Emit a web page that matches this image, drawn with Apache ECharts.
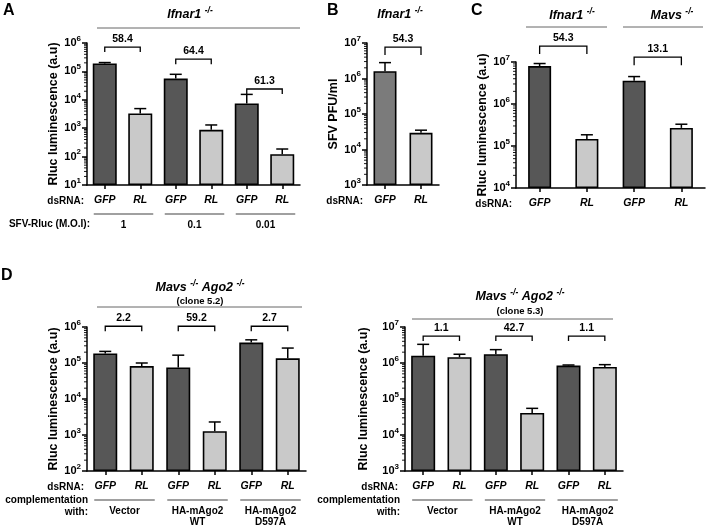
<!DOCTYPE html>
<html><head><meta charset="utf-8">
<script src="https://cdn.jsdelivr.net/npm/echarts@6/dist/echarts.min.js"></script>
<style>html,body{margin:0;padding:0;background:#fff}#c{width:709px;height:529px}</style>
</head><body><div id="c"></div>
<script>
// ---------- DATA ----------
const catsA = ['GFP','RL','GFP','RL','GFP','RL'];
const valsA = [1.9e5, 3.3e3, 5.6e4, 880, 7.4e3, 122];
const errA  = [2.05e5, 4.9e3, 7.9e4, 1.3e3, 1.55e4, 185];
const foldA = ['58.4','64.4','61.3'];
const moiA  = ['1','0.1','0.01'];

const catsB = ['GFP','RL'];
const valsB = [1.6e6, 2.95e4];
const errB  = [2.8e6, 3.5e4];
const foldB = ['54.3'];

const catsC = ['GFP','RL','GFP','RL'];
const valsC = [8.0e6, 1.47e5, 3.6e6, 2.7e5];
const errC  = [9.2e6, 1.85e5, 4.5e6, 3.3e5];
const foldC = ['54.3','13.1'];

const catsD = ['GFP','RL','GFP','RL','GFP','RL'];
const valsD1 = [1.85e5, 8.2e4, 7.5e4, 1.27e3, 3.7e5, 1.35e5];
const errD1  = [2.1e5, 1.0e5, 1.65e5, 2.3e3, 4.4e5, 2.6e5];
const foldD1 = ['2.2','59.2','2.7'];
const valsD2 = [1.6e6, 1.45e6, 1.75e6, 4.1e4, 8.5e5, 7.8e5];
const errD2  = [3.3e6, 1.75e6, 2.35e6, 5.5e4, 8.8e5, 9.0e5];
const foldD2 = ['1.1','42.7','1.1'];
const complementation = [['Vector'],['HA-mAgo2','WT'],['HA-mAgo2','D597A']];

// ---------- STYLE / LAYOUT ----------
const F = '"Liberation Sans", Arial, Helvetica, sans-serif';
const DARK = '#575757', LIGHT = '#c9c9c9', MIDG = '#7b7b7b';
const YNAME = 'Rluc luminescence (a.u)';

const panels = [
  {cats:catsA, vals:valsA, errs:errA, folds:foldA, gfp:DARK, pairs:[[0,1],[2,3],[4,5]],
   bracketAt:[7.2e5, 2.7e5, 2.4e4], leg:5, barW:24,
   grid:{left:87, top:43, width:213, height:142}, min:1e1, max:1e6, name:YNAME, nameGap:21,
   groups:moiA.map(t=>[t])},
  {cats:catsB, vals:valsB, errs:errB, folds:foldB, gfp:MIDG, pairs:[[0,1]],
   bracketAt:[7.7e6], leg:8, barW:23,
   grid:{left:367, top:43, width:72, height:142}, min:1e3, max:1e7, name:'SFV PFU/ml', nameGap:23},
  {cats:catsC, vals:valsC, errs:errC, folds:foldC, gfp:DARK, pairs:[[0,1],[2,3]],
   bracketAt:[2.4e7, 1.3e7], leg:8, barW:23,
   grid:{left:516, top:62, width:189, height:126}, min:1e4, max:1e7, name:YNAME, nameGap:22},
  {cats:catsD, vals:valsD1, errs:errD1, folds:foldD1, gfp:DARK, pairs:[[0,1],[2,3],[4,5]],
   bracketAt:[1.05e6, 1.05e6, 1.05e6], leg:5, barW:24,
   grid:{left:87, top:327, width:219, height:144}, min:1e2, max:1e6, name:YNAME, nameGap:26,
   groups:complementation},
  {cats:catsD, vals:valsD2, errs:errD2, folds:foldD2, gfp:DARK, pairs:[[0,1],[2,3],[4,5]],
   bracketAt:[5.6e6, 5.6e6, 5.6e6], leg:5, barW:24,
   grid:{left:405, top:327, width:218, height:144}, min:1e3, max:1e7, name:YNAME, nameGap:35,
   groups:complementation}
];

const tickRich = {
  a:{fontFamily:F, fontSize:11, fontWeight:'bold', color:'#000', lineHeight:17},
  b:{fontFamily:F, fontSize:8, fontWeight:'bold', color:'#000', lineHeight:8, verticalAlign:'top'}
};
function supLabel(v){ return '{a|10}{b|' + Math.round(Math.log10(v)) + '}'; }

const grids = [], xAxes = [], yAxes = [], series = [];
const BLK = '#000';

panels.forEach((p, i) => {
  grids.push(Object.assign({containLabel:false, outerBoundsMode:'none'}, p.grid));
  xAxes.push({type:'category', gridIndex:i, data:p.cats, boundaryGap:true,
    axisLine:{show:true, lineStyle:{color:BLK, width:1.5}},
    axisTick:{show:true, alignWithLabel:true, length:4, lineStyle:{color:BLK, width:1.5}},
    axisLabel:{show:true, interval:0, margin:10, fontFamily:F, fontSize:10.5, fontWeight:'bold', fontStyle:'italic', color:BLK},
    splitLine:{show:false}});
  yAxes.push({type:'log', logBase:10, gridIndex:i, min:p.min, max:p.max, startValue:p.min,
    axisLine:{show:true, lineStyle:{color:BLK, width:1.5}},
    axisTick:{show:true, length:5, lineStyle:{color:BLK, width:1.5}},
    splitLine:{show:false},
    axisLabel:{formatter:supLabel, rich:tickRich, margin:6},
    name:p.name, nameLocation:'middle', nameGap:p.nameGap,
    nameTextStyle:{fontFamily:F, fontSize:12.5, fontWeight:'bold', color:BLK}});

  series.push({type:'bar', xAxisIndex:i, yAxisIndex:i, barWidth:p.barW, clip:true, silent:true, animation:false, z:2,
    itemStyle:{borderColor:BLK, borderWidth:1.6},
    data:p.vals.map((v,j)=>({value:v, itemStyle:{color: p.cats[j]==='GFP' ? p.gfp : LIGHT}}))});

  // error bars (upper whisker)
  series.push({type:'custom', xAxisIndex:i, yAxisIndex:i, silent:true, animation:false, z:3, clip:false,
    encode:{x:0, y:1},
    data:p.vals.map((v,j)=>[j, v, p.errs[j]]),
    renderItem:(params, api) => {
      const b = api.coord([api.value(0), api.value(1)]);
      const t = api.coord([api.value(0), api.value(2)]);
      const hw = 6;
      return {type:'group', children:[
        {type:'line', shape:{x1:b[0], y1:b[1], x2:t[0], y2:t[1]}, style:{stroke:BLK, lineWidth:1.5}},
        {type:'line', shape:{x1:t[0]-hw, y1:t[1], x2:t[0]+hw, y2:t[1]}, style:{stroke:BLK, lineWidth:1.5}}
      ]};
    }});

  // minor log ticks (2..9 x 10^n)
  series.push({type:'custom', xAxisIndex:i, yAxisIndex:i, silent:true, animation:false, z:3, clip:false,
    encode:{x:0, y:1}, data:[[0, p.min]],
    renderItem:(params, api) => {
      const cs = params.coordSys, kids = [];
      const e0 = Math.round(Math.log10(p.min)), e1 = Math.round(Math.log10(p.max));
      for (let e = e0; e < e1; e++) {
        for (let k = 2; k <= 9; k++) {
          const y = api.coord([0, k * Math.pow(10, e)])[1];
          kids.push({type:'line', shape:{x1:cs.x-3, y1:y, x2:cs.x, y2:y}, style:{stroke:BLK, lineWidth:0.9}});
        }
      }
      return {type:'group', children:kids};
    }});

  // fold-change brackets
  series.push({type:'custom', xAxisIndex:i, yAxisIndex:i, silent:true, animation:false, z:3, clip:false,
    encode:{x:0, y:1},
    data:p.pairs.map((pr,k)=>[pr[0], p.bracketAt[k], pr[1], k]),
    renderItem:(params, api) => {
      const l = api.coord([api.value(0), api.value(1)]);
      const r = api.coord([api.value(2), api.value(1)]);
      const y = l[1];
      return {type:'group', children:[
        {type:'polyline', shape:{points:[[l[0], y+p.leg],[l[0], y],[r[0], y],[r[0], y+p.leg]]},
         style:{stroke:BLK, lineWidth:1.3, fill:null}},
        {type:'text', x:(l[0]+r[0])/2, y:y-8,
         style:{text:p.folds[api.value(3)], align:'center', verticalAlign:'middle',
                fontFamily:F, fontSize:10.5, fontWeight:'bold', fill:BLK}}
      ]};
    }});

  // group lines + labels below the x axis
  if (p.groups) {
    series.push({type:'custom', xAxisIndex:i, yAxisIndex:i, silent:true, animation:false, z:3, clip:false,
      encode:{x:0, y:3},
      data:p.pairs.map((pr,k)=>[pr[0], pr[1], k, p.min]),
      renderItem:(params, api) => {
        const cs = params.coordSys;
        const a = api.coord([api.value(0), p.min])[0];
        const b = api.coord([api.value(1), p.min])[0];
        const x1 = a - 11, x2 = b + 13;
        const yl = cs.y + cs.height + 29;
        const kids = [{type:'line', shape:{x1:x1, y1:yl, x2:x2, y2:yl}, style:{stroke:'#808080', lineWidth:1.5}}];
        p.groups[api.value(2)].forEach((t, m) => kids.push({type:'text', x:(x1+x2)/2, y:yl+11+m*11,
          style:{text:t, align:'center', verticalAlign:'middle', fontFamily:F, fontSize:10, fontWeight:'bold', fill:BLK}}));
        return {type:'group', children:kids};
      }});
  }
});

// ---------- decorations ----------
const titleRich = {
  t:{fontFamily:F, fontSize:12.5, fontWeight:'bold', fontStyle:'italic', color:BLK, lineHeight:18},
  s:{fontFamily:F, fontSize:8.5, fontWeight:'bold', fontStyle:'italic', color:BLK, lineHeight:8, verticalAlign:'top'},
  c:{fontFamily:F, fontSize:9.5, fontWeight:'bold', color:BLK, lineHeight:12}
};
function rtext(x, y, txt) {
  return {type:'text', x:x, y:y, style:{text:txt, rich:titleRich, align:'center', verticalAlign:'middle'}};
}
function ptext(x, y, txt, align, size) {
  return {type:'text', x:x, y:y, style:{text:txt, align:align||'right', verticalAlign:'middle',
    fontFamily:F, fontSize:size||10, fontWeight:'bold', fill:BLK}};
}
function hline(x1, x2, y, color, w) {
  return {type:'line', shape:{x1:x1, y1:y, x2:x2, y2:y}, style:{stroke:color||'#666', lineWidth:w||1}};
}
const elements = [
  ptext(3, 11, 'A', 'left', 16), ptext(327, 11, 'B', 'left', 16), ptext(471, 11, 'C', 'left', 16), ptext(1, 276, 'D', 'left', 16),
  rtext(190, 15, '{t|Ifnar1 }{s|-/-}'), hline(97, 300, 28),
  rtext(400, 15, '{t|Ifnar1 }{s|-/-}'),
  rtext(572, 16, '{t|Ifnar1 }{s|-/-}'), hline(526, 607, 27),
  rtext(672, 16, '{t|Mavs }{s|-/-}'), hline(623, 703, 27),
  rtext(200, 288, '{t|Mavs }{s|-/-}{t| Ago2 }{s|-/-}'), rtext(200, 301, '{c|(clone 5.2)}'), hline(97, 302, 307),
  rtext(520, 297, '{t|Mavs }{s|-/-}{t| Ago2 }{s|-/-}'), rtext(520, 311, '{c|(clone 5.3)}'), hline(412, 613, 319),
  ptext(84, 201, 'dsRNA:'), ptext(90, 224, 'SFV-Rluc (M.O.I):'),
  ptext(363, 201, 'dsRNA:'),
  ptext(512, 204, 'dsRNA:'),
  ptext(84, 487, 'dsRNA:'), ptext(88, 500, 'complementation'), ptext(88, 512, 'with:'),
  ptext(398, 487, 'dsRNA:'), ptext(400, 500, 'complementation'), ptext(400, 512, 'with:')
];

const chart = echarts.init(document.getElementById('c'), null, {renderer:'canvas'});
chart.setOption({
  backgroundColor:'#fff', animation:false,
  grid:grids, xAxis:xAxes, yAxis:yAxes, series:series,
  graphic:{elements:elements}
});
</script></body></html>
